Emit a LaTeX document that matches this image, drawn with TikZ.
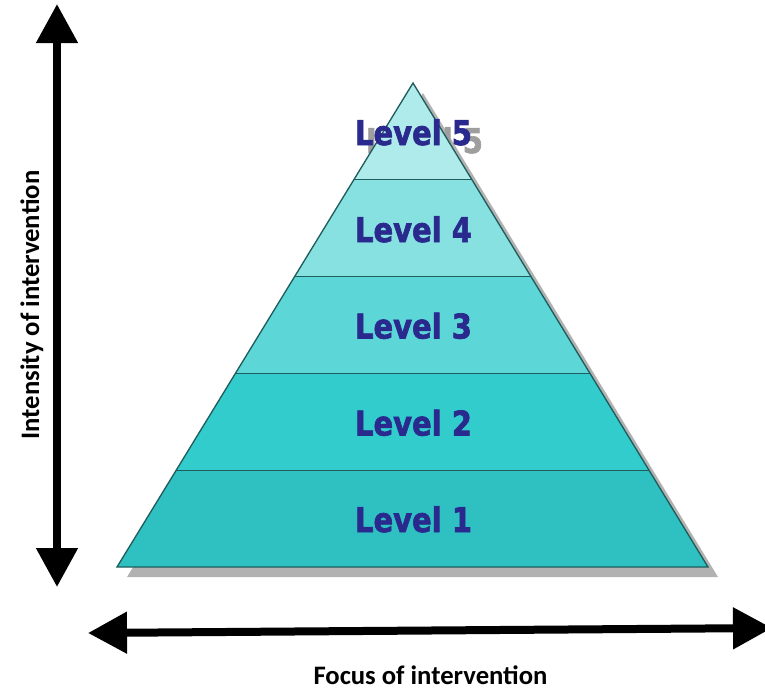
\documentclass[tikz,border=0pt]{standalone}
\usepackage{fontspec}
\usetikzlibrary{arrows.meta,calc}
\newfontfamily\axisfont{Carlito}
\newfontfamily\levelfont[BoldFeatures={FakeBold=2}]{DejaVu Sans}
\definecolor{bandone}{HTML}{2FC1C1}
\definecolor{bandtwo}{HTML}{33CCCC}
\definecolor{bandthree}{HTML}{5CD6D6}
\definecolor{bandfour}{HTML}{88E1E1}
\definecolor{bandfive}{HTML}{B0EBEB}
\definecolor{edgeteal}{HTML}{1F5C5C}
\definecolor{levelblue}{HTML}{2A2A8E}
\definecolor{dropgray}{HTML}{B2B2B2}
\definecolor{textshadow}{HTML}{9E9E9E}
\tikzset{
  levellabel/.style={anchor=base, inner sep=0pt, text=levelblue,
    font=\levelfont\bfseries\fontsize{25.5pt}{30pt}\selectfont},
  axislabel/.style={anchor=base, inner sep=0pt, text=black,
    font=\axisfont\bfseries\fontsize{20pt}{24pt}\selectfont},
  axisarrow/.style={line width=6pt,
    {Triangle[length=29.25pt,width=30pt]}-{Triangle[length=29.25pt,width=30pt]}},
  bandedge/.style={draw=edgeteal, line width=1pt, line join=miter}
}
\newcommand{\lvltext}[1]{\scalebox{0.853}[1]{#1}}
\begin{document}
\begin{tikzpicture}[x=0.75pt,y=-0.75pt]
\useasboundingbox (0,0) rectangle (765,687);

% pyramid corners and band boundaries
\coordinate (apex) at (413,83);
\coordinate (bl) at (117,567);
\coordinate (br) at (708,567);
\foreach \i in {0,...,5}{
  \coordinate (L\i) at ($(apex)!\i/5!(bl)$);
  \coordinate (R\i) at ($(apex)!\i/5!(br)$);
}

% drop shadow of the pyramid
\fill[dropgray] ([shift={(10,10)}]apex) -- ([shift={(10,10)}]bl) -- ([shift={(10,10)}]br) -- cycle;

% shadow of the top label, partly hidden by the pyramid
\node[levellabel, text=textshadow] (lv5s) at (424.5,153) {\lvltext{Level 5}};

% bands, top to bottom
\fill[bandfive]  (L0) -- (L1) -- (R1) -- (R0) -- cycle;
\fill[bandfour]  (L1) -- (L2) -- (R2) -- (R1) -- cycle;
\fill[bandthree] (L2) -- (L3) -- (R3) -- (R2) -- cycle;
\fill[bandtwo]   (L3) -- (L4) -- (R4) -- (R3) -- cycle;
\fill[bandone]   (L4) -- (L5) -- (R5) -- (R4) -- cycle;

% outline and band separators
\draw[bandedge] (apex) -- (bl) -- (br) -- cycle;
\foreach \i in {1,...,4}{
  \draw[bandedge] (L\i) -- (R\i);
}

% level labels
\node[levellabel] (lv5) at (413.5,145) {\lvltext{Level 5}};
\node[levellabel] (lv4) at (413.5,242) {\lvltext{Level 4}};
\node[levellabel] (lv3) at (413.5,338.5) {\lvltext{Level 3}};
\node[levellabel] (lv2) at (413.5,435.5) {\lvltext{Level 2}};
\node[levellabel] (lv1) at (413.5,532) {\lvltext{Level 1}};

% axes
\coordinate (vtop) at (57,4);
\coordinate (vbot) at (57,587);
\draw[axisarrow] (vbot) -- (vtop);
\coordinate (hleft) at (88,633);
\coordinate (hright) at (772,628);
\draw[axisarrow] (hleft) -- (hright);

% axis captions
\node[axislabel, rotate=90] (ylab) at (39,305) {Intensity of intervention};
\node[axislabel] (xlab) at (430.5,684) {Focus of intervention};
\end{tikzpicture}
\end{document}
